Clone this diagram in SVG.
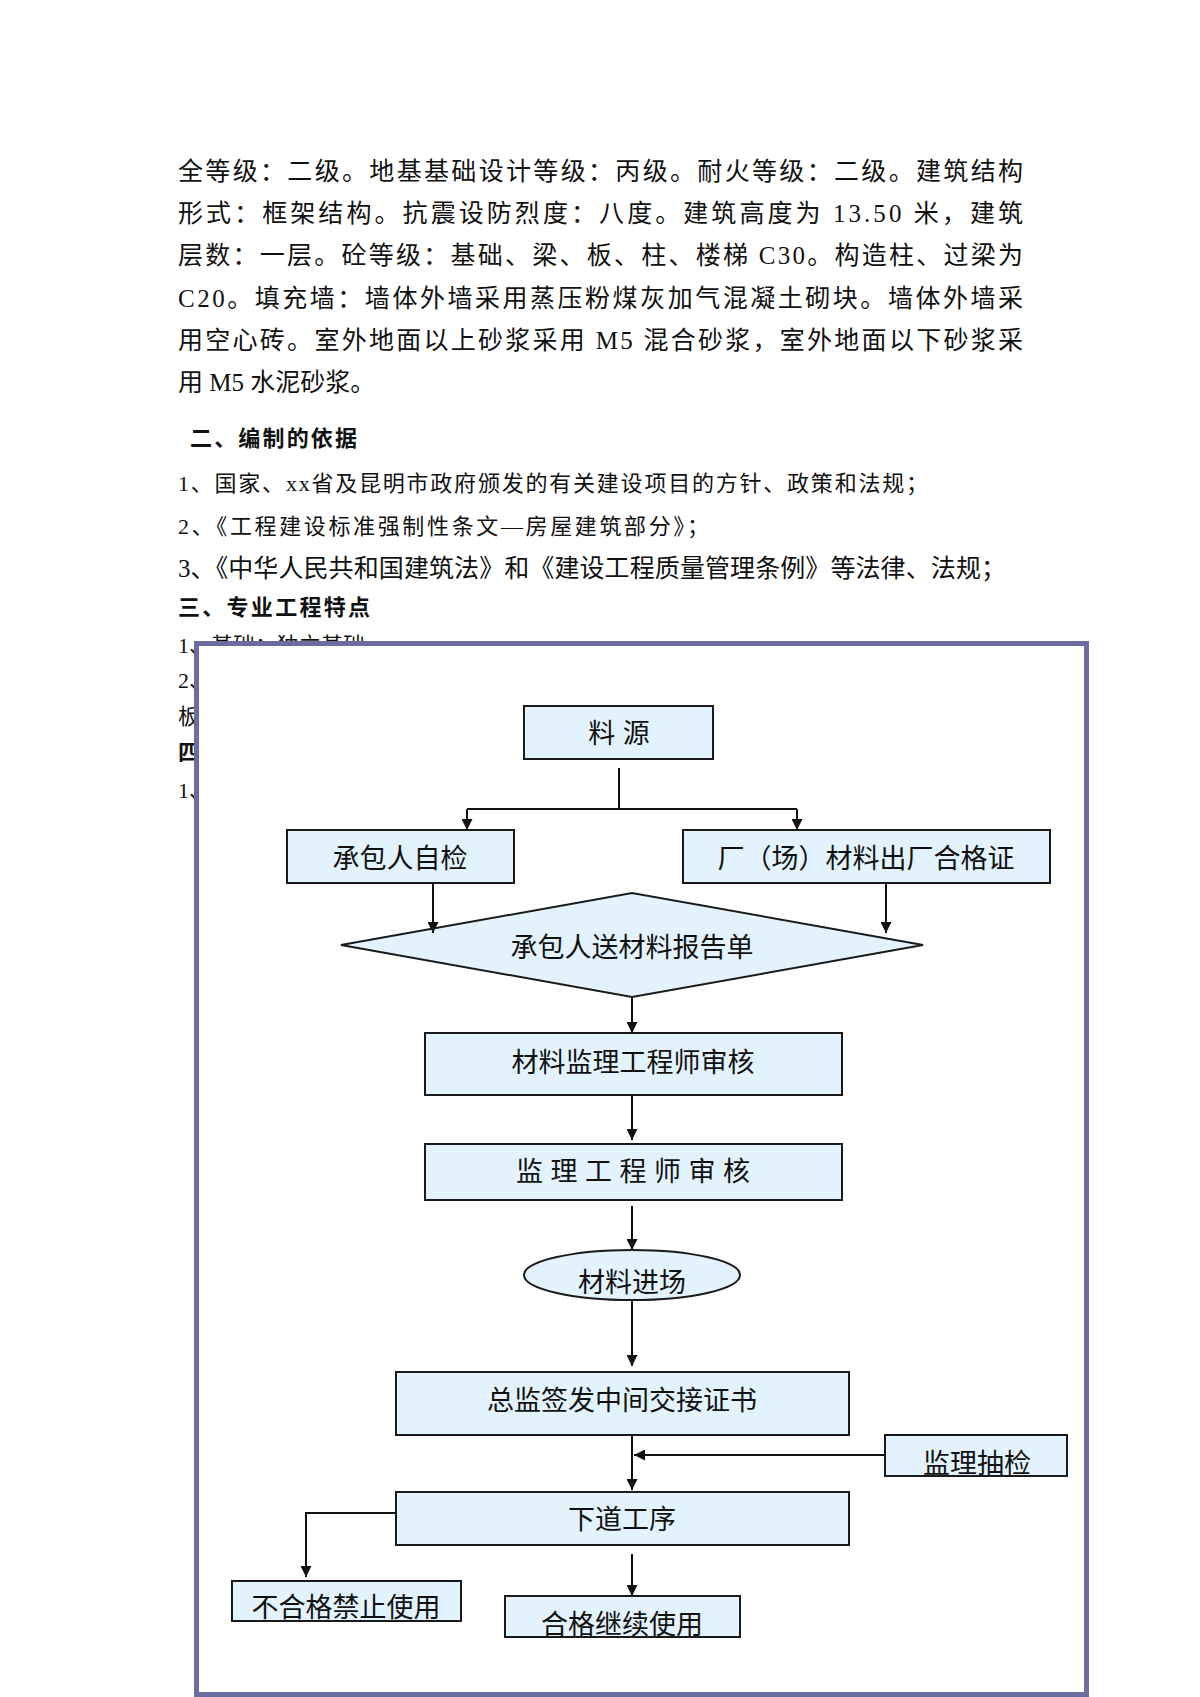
<svg xmlns="http://www.w3.org/2000/svg" width="1200" height="1697" viewBox="0 0 1200 1697">
<style>
.body{font-family:"Liberation Serif","Noto Sans CJK SC",serif;font-size:25px;fill:#111}
.small{font-family:"Liberation Serif","Noto Sans CJK SC",serif;font-size:22px;fill:#111}
.head{font-family:"Liberation Serif","Noto Sans CJK SC",serif;font-size:22px;font-weight:bold;fill:#111}
.box{fill:#e3f3fd;stroke:#1a1a1a;stroke-width:2}
.lbl{font-family:"Liberation Sans","Noto Sans CJK SC",sans-serif;font-size:27px;fill:#111;text-anchor:middle}
.con{fill:none;stroke:#111;stroke-width:2}
</style>
<defs>
<marker id="arr" viewBox="0 0 10 10" refX="10" refY="5" markerWidth="11" markerHeight="11" markerUnits="userSpaceOnUse" orient="auto">
<path d="M0,0 L10,5 L0,10 Z" fill="#111"/>
</marker>
<clipPath id="c1"><rect x="885" y="1435" width="182" height="41"/></clipPath>
<clipPath id="c2"><rect x="232" y="1581" width="229" height="40"/></clipPath>
<clipPath id="c3"><rect x="505" y="1596" width="235" height="41"/></clipPath>
</defs>
<rect x="0" y="0" width="1200" height="1697" fill="#fff"/>
<g id="page-text">
<text class="body" x="178" y="180" textLength="845" lengthAdjust="spacing">全等级：二级。地基基础设计等级：丙级。耐火等级：二级。建筑结构</text>
<text class="body" x="178" y="222" textLength="845" lengthAdjust="spacing">形式：框架结构。抗震设防烈度：八度。建筑高度为 13.50 米，建筑</text>
<text class="body" x="178" y="264" textLength="845" lengthAdjust="spacing">层数：一层。砼等级：基础、梁、板、柱、楼梯 C30。构造柱、过梁为</text>
<text class="body" x="178" y="307" textLength="845" lengthAdjust="spacing">C20。填充墙：墙体外墙采用蒸压粉煤灰加气混凝土砌块。墙体外墙采</text>
<text class="body" x="178" y="349" textLength="845" lengthAdjust="spacing">用空心砖。室外地面以上砂浆采用 M5 混合砂浆，室外地面以下砂浆采</text>
<text class="body" x="178" y="391">用 M5 水泥砂浆。</text>
<text class="head" x="190" y="446" textLength="167" lengthAdjust="spacing">二、编制的依据</text>
<text class="small" x="178" y="491" textLength="750" lengthAdjust="spacing">1、国家、xx省及昆明市政府颁发的有关建设项目的方针、政策和法规；</text>
<text class="small" x="178" y="534" textLength="531" lengthAdjust="spacing">2、《工程建设标准强制性条文—房屋建筑部分》；</text>
<text class="body" x="178" y="577" textLength="828" lengthAdjust="spacing">3、《中华人民共和国建筑法》和《建设工程质量管理条例》等法律、法规；</text>
<text class="head" x="178" y="615" textLength="192" lengthAdjust="spacing">三、专业工程特点</text>
<text class="small" x="178" y="653">1、基础：独立基础</text>
<text class="small" x="178" y="688">2、</text>
<text class="small" x="178" y="724">板</text>
<text class="head" x="178" y="760">四、</text>
<text class="small" x="178" y="798">1、</text>
</g>
<rect id="frame" x="196.5" y="643.5" width="890" height="1051" fill="#fff" stroke="#6c6ca0" stroke-width="5"/>
<g id="n1"><rect class="box" x="524" y="706" width="189" height="53"/><text class="lbl" x="619" y="743">料 源</text></g>
<g id="n2"><rect class="box" x="287" y="830" width="227" height="53"/><text class="lbl" x="400" y="868">承包人自检</text></g>
<g id="n3"><rect class="box" x="683" y="830" width="367" height="53"/><text class="lbl" x="866" y="868">厂（场）材料出厂合格证</text></g>
<g id="n4"><polygon class="box" points="341,945 632,893 923,945 632,997"/><text class="lbl" x="632" y="957">承包人送材料报告单</text></g>
<g id="n5"><rect class="box" x="425" y="1033" width="417" height="62"/><text class="lbl" x="633" y="1072">材料监理工程师审核</text></g>
<g id="n6"><rect class="box" x="425" y="1144" width="417" height="56"/><text class="lbl" x="633" y="1181">监 理 工 程 师 审 核</text></g>
<g id="n7"><ellipse class="box" cx="632" cy="1275" rx="108" ry="25"/><text class="lbl" x="632" y="1292">材料进场</text></g>
<g id="n8"><rect class="box" x="396" y="1372" width="453" height="63"/><text class="lbl" x="622" y="1410">总监签发中间交接证书</text></g>
<g id="n9"><rect class="box" x="885" y="1435" width="182" height="41"/><text class="lbl" x="977" y="1473" clip-path="url(#c1)">监理抽检</text></g>
<g id="n10"><rect class="box" x="396" y="1492" width="453" height="53"/><text class="lbl" x="622" y="1529">下道工序</text></g>
<g id="n11"><rect class="box" x="232" y="1581" width="229" height="40"/><text class="lbl" x="346" y="1617" clip-path="url(#c2)">不合格禁止使用</text></g>
<g id="n12"><rect class="box" x="505" y="1596" width="235" height="41"/><text class="lbl" x="622" y="1634" clip-path="url(#c3)">合格继续使用</text></g>
<g id="connectors">
<path class="con" d="M619,768 V809"/>
<path class="con" d="M467,809 H797"/>
<path class="con" d="M467,809 V830" marker-end="url(#arr)"/>
<path class="con" d="M797,809 V830" marker-end="url(#arr)"/>
<path class="con" d="M433,883 V933" marker-end="url(#arr)"/>
<path class="con" d="M886,883 V933" marker-end="url(#arr)"/>
<path class="con" d="M632,997 V1033" marker-end="url(#arr)"/>
<path class="con" d="M632,1095 V1140" marker-end="url(#arr)"/>
<path class="con" d="M632,1206 V1250" marker-end="url(#arr)"/>
<path class="con" d="M632,1300 V1366" marker-end="url(#arr)"/>
<path class="con" d="M632,1435 V1490" marker-end="url(#arr)"/>
<path class="con" d="M885,1455 H634" marker-end="url(#arr)"/>
<path class="con" d="M396,1513 H306 V1577" marker-end="url(#arr)"/>
<path class="con" d="M632,1554 V1596" marker-end="url(#arr)"/>
</g>
</svg>
